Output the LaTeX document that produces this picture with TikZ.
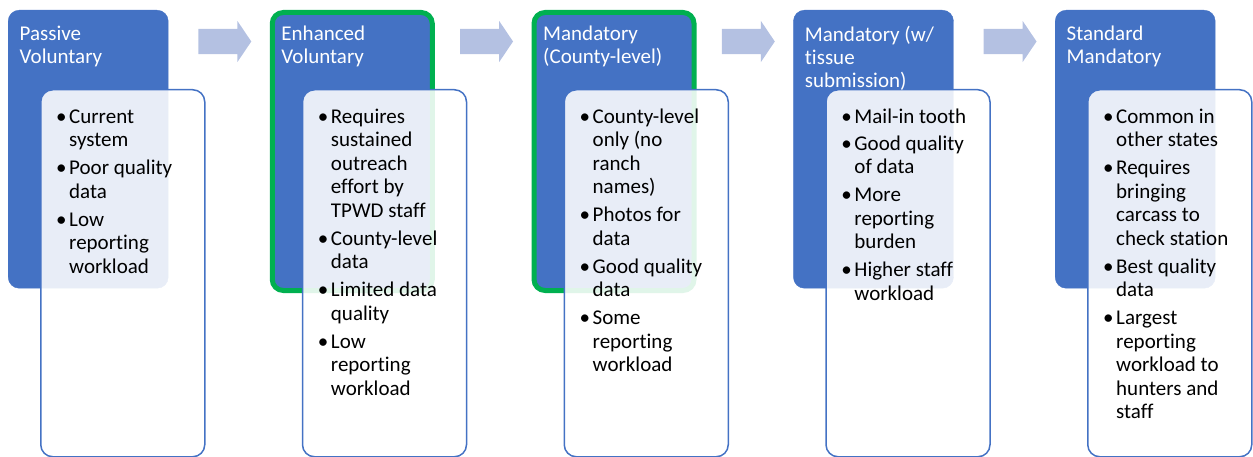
\documentclass[tikz,border=0pt]{standalone}
\usepackage{fontspec}
\setmainfont{Carlito}[Ligatures=NoCommon]
\usepackage{xcolor}
\usetikzlibrary{shapes.arrows}

\definecolor{hdrblue}{RGB}{68,114,196}
\definecolor{arrowblue}{RGB}{180,193,226}
\definecolor{pickgreen}{RGB}{0,176,80}

\newcommand{\bul}[1]{\makebox[11pt][l]{\hspace{-2pt}\textbullet}\begin{tabular}[t]{@{}l@{}}#1\end{tabular}}

\tikzset{
    hdr/.style={draw=hdrblue, fill=hdrblue, rounded corners=11pt, minimum width=160pt, minimum height=278pt, anchor=north west, inner sep=0pt},
    pick/.style={draw=pickgreen, line width=5pt},
    body/.style={draw=hdrblue, line width=1.5pt, fill=white, fill opacity=0.88, rounded corners=12pt, minimum width=164pt, minimum height=367pt, anchor=north west, inner sep=0pt},
    hdrtxt/.style={text=white, align=left, anchor=north west, inner sep=0pt, font=\fontsize{21}{23}\selectfont},
    bodytxt/.style={text=black, align=left, anchor=north west, inner sep=0pt, font=\fontsize{21}{23.5}\selectfont},
    steparrow/.style={single arrow, fill=arrowblue, draw=none, inner xsep=0pt, inner ysep=12.5pt, minimum height=53pt, single arrow head extend=8pt, single arrow tip angle=112}
}

\begin{document}
\begin{tikzpicture}[x=1pt,y=-1pt]
    \useasboundingbox (0,0) rectangle (1253,457);
    % Passive voluntary
    \node[hdr] (h1) at (8,10) {};
    \node[body] (b1) at (40,89) {};
    \node[hdrtxt] (t1) at (19.5,25.5) {Passive\\Voluntary};
    \node[bodytxt] (l1) at (58,106.5) {\bul{Current\\system}\\[3.5pt]\bul{Poor quality\\data}\\[3.5pt]\bul{Low\\reporting\\workload}};
    % Enhanced voluntary
    \node[hdr,pick] (h2) at (269.75,10) {};
    \node[body] (b2) at (301.75,89) {};
    \node[hdrtxt] (t2) at (281.25,25.5) {Enhanced\\Voluntary};
    \node[bodytxt] (l2) at (319.75,106.5) {\bul{Requires\\sustained\\outreach\\effort by\\TPWD staff}\\[3.5pt]\bul{County-level\\data}\\[3.5pt]\bul{Limited data\\quality}\\[3.5pt]\bul{Low\\reporting\\workload}};
    % Mandatory, county level
    \node[hdr,pick] (h3) at (531.5,10) {};
    \node[body] (b3) at (563.5,89) {};
    \node[hdrtxt] (t3) at (543,25.5) {Mandatory\\(County-level)};
    \node[bodytxt] (l3) at (581.5,106.5) {\bul{County-level\\only (no\\ranch\\names)}\\[3.5pt]\bul{Photos for\\data}\\[3.5pt]\bul{Good quality\\data}\\[3.5pt]\bul{Some\\reporting\\workload}};
    % Mandatory with tissue
    \node[hdr] (h4) at (793.25,10) {};
    \node[body] (b4) at (825.25,89) {};
    \node[hdrtxt] (t4) at (804.75,25.5) {Mandatory (w/\\tissue\\submission)};
    \node[bodytxt] (l4) at (843.25,106.5) {\bul{Mail-in tooth}\\[3.5pt]\bul{Good quality\\of data}\\[3.5pt]\bul{More\\reporting\\burden}\\[3.5pt]\bul{Higher staff\\workload}};
    % Standard mandatory
    \node[hdr] (h5) at (1055,10) {};
    \node[body] (b5) at (1087,89) {};
    \node[hdrtxt] (t5) at (1066.5,25.5) {Standard\\Mandatory};
    \node[bodytxt] (l5) at (1105,106.5) {\bul{Common in\\other states}\\[3.5pt]\bul{Requires\\bringing\\carcass to\\check station}\\[3.5pt]\bul{Best quality\\data}\\[3.5pt]\bul{Largest\\reporting\\workload to\\hunters and\\staff}};
    % arrows
    \node[steparrow] (a1) at (220.5,41.5) {};
    \node[steparrow] (a2) at (482.25,41.5) {};
    \node[steparrow] (a3) at (744,41.5) {};
    \node[steparrow] (a4) at (1005.75,41.5) {};
\end{tikzpicture}
\end{document}
